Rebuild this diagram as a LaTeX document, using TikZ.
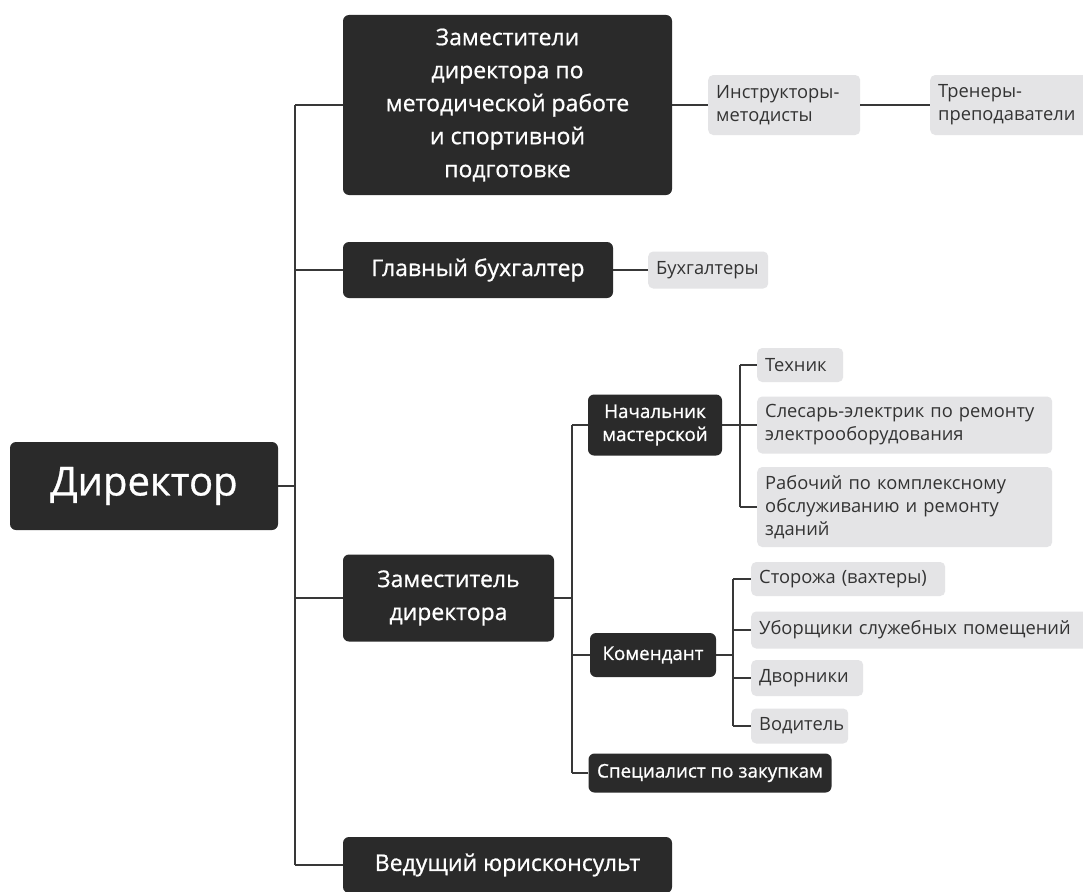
\documentclass[tikz,border=0pt]{standalone}
\usepackage{fontspec}
\setmainfont{Open Sans}
\newfontfamily\bossface{Open Sans}[FakeBold=0.8]
\usepackage{tikz}
\definecolor{bossfill}{HTML}{2A2A2A}
\definecolor{stafffill}{HTML}{E4E4E6}
\definecolor{staffink}{HTML}{333333}
\definecolor{linkgrey}{HTML}{383838}
\begin{document}
\begin{tikzpicture}[x=1pt,y=-1pt]
\tikzstyle{boss}=[fill=bossfill, text=white, rounded corners=6pt, align=center, inner sep=0pt]
\tikzstyle{chief}=[boss, font=\bossface\fontsize{23}{33}\selectfont]
\tikzstyle{head}=[boss, font=\bossface\fontsize{18.8}{23}\selectfont]
\tikzstyle{staff}=[fill=stafffill, text=staffink, rounded corners=5pt, align=left, inner xsep=8pt, inner ysep=0pt, anchor=west, font=\fontsize{18.3}{23}\selectfont]
\tikzstyle{link}=[draw=linkgrey, line width=2pt]
\path[fill=white, use as bounding box] (0,0) rectangle (1083,891);
\node[boss, minimum width=268pt, minimum height=88pt, font=\bossface\fontsize{40}{48}\selectfont] (dir) at (144,486) {Директор};
\node[chief, minimum width=329pt, minimum height=180pt] (zm) at (507.5,105) {Заместители\\директора по\\методической работе\\и спортивной\\подготовке};
\node[chief, minimum width=270pt, minimum height=56pt] (gb) at (478,270) {Главный бухгалтер};
\node[chief, minimum width=211pt, minimum height=87pt] (zd) at (448.5,598) {Заместитель\\директора};
\node[chief, minimum width=329pt, minimum height=56pt] (yur) at (507.5,865) {Ведущий юрисконсульт};
\node[head, minimum width=134pt, minimum height=61pt] (nach) at (655,425) {Начальник\\мастерской};
\node[head, minimum width=126pt, minimum height=44pt] (kom) at (653,655) {Комендант};
\node[head, minimum width=243pt, minimum height=39pt] (spec) at (710,773) {Специалист по закупкам};
\node[staff, minimum height=60pt, text width=136pt] (instr) at (708,105) {Инструкторы-\\методисты};
\node[staff, minimum height=60pt, text width=152pt] (tren) at (930,105) {Тренеры-\\преподаватели};
\node[staff, minimum height=37pt, text width=104pt] (buh) at (648,270) {Бухгалтеры};
\node[staff, minimum height=34pt, text width=70pt] (tech) at (757,365) {Техник};
\node[staff, minimum height=57pt, text width=279pt] (sles) at (757,425) {Слесарь-электрик по ремонту\\электрооборудования};
\node[staff, minimum height=80pt, text width=279pt] (rab) at (757,507) {Рабочий по комплексному\\обслуживанию и ремонту\\зданий};
\node[staff, minimum height=34pt, text width=178pt] (stor) at (751,579) {Сторожа (вахтеры)};
\node[staff, minimum height=37pt, text width=324pt] (ubor) at (751,630) {Уборщики служебных помещений};
\node[staff, minimum height=36pt, text width=96pt] (dvor) at (751,678) {Дворники};
\node[staff, minimum height=35pt, text width=81pt] (vod) at (751,726) {Водитель};
\coordinate (trunk) at (295,0);
\coordinate (zdbus) at (572,0);
\coordinate (nachbus) at (740,0);
\coordinate (kombus) at (733,0);
\draw[link] (dir.east) -- (dir.east -| trunk);
\draw[link] (zm.west -| trunk) -- (yur.west -| trunk);
\foreach \n in {zm,gb,zd,yur}
  \draw[link] (\n.west -| trunk) -- (\n.west);
\draw[link] (zm.east) -- (instr.west);
\draw[link] (instr.east) -- (tren.west);
\draw[link] (gb.east) -- (buh.west);
\draw[link] (zd.east) -- (zd.east -| zdbus);
\draw[link] (nach.west -| zdbus) -- (spec.west -| zdbus);
\foreach \n in {nach,kom,spec}
  \draw[link] (\n.west -| zdbus) -- (\n.west);
\draw[link] (nach.east) -- (nach.east -| nachbus);
\draw[link] (tech.west -| nachbus) -- (rab.west -| nachbus);
\foreach \n in {tech,sles,rab}
  \draw[link] (\n.west -| nachbus) -- (\n.west);
\draw[link] (kom.east) -- (kom.east -| kombus);
\draw[link] (stor.west -| kombus) -- (vod.west -| kombus);
\foreach \n in {stor,ubor,dvor,vod}
  \draw[link] (\n.west -| kombus) -- (\n.west);
\end{tikzpicture}
\end{document}
